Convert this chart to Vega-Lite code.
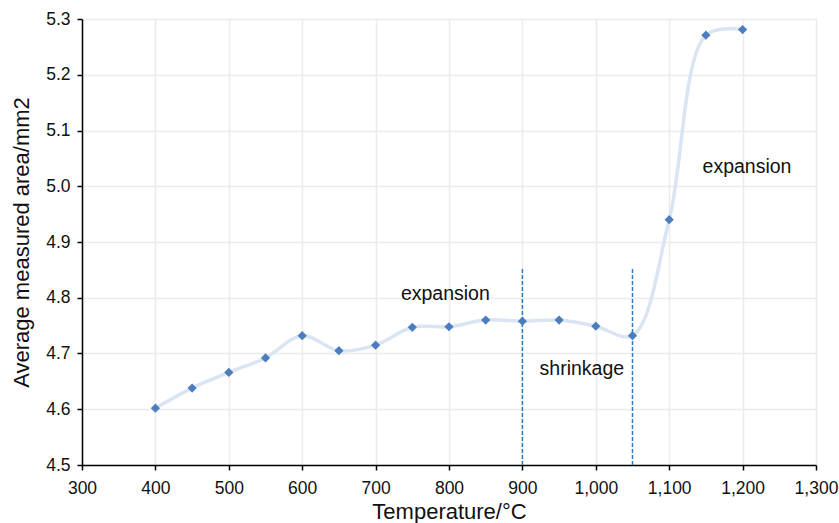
{
  "$schema": "https://vega.github.io/schema/vega-lite/v6.json",
  "width": 734,
  "height": 446,
  "autosize": {"type": "none"},
  "padding": {"left": 82, "top": 19, "right": 23, "bottom": 58},
  "background": "white",
  "config": {
    "view": {"stroke": null},
    "font": "Liberation Sans",
    "axis": {
      "labelFont": "Liberation Sans",
      "titleFont": "Liberation Sans",
      "labelFontSize": 17.5,
      "titleFontSize": 22,
      "titleFontWeight": "normal",
      "labelColor": "#111",
      "titleColor": "#111",
      "domainColor": "#000",
      "domainWidth": 1.5,
      "tickColor": "#000",
      "tickWidth": 1.5,
      "tickSize": 5,
      "gridColor": "#ececec",
      "gridWidth": 1.5,
      "labelFlush": false
    }
  },
  "datasets": {
    "pts": [
      {"t": 400, "a": 4.602},
      {"t": 450, "a": 4.638},
      {"t": 500, "a": 4.666},
      {"t": 550, "a": 4.692},
      {"t": 600, "a": 4.732},
      {"t": 650, "a": 4.705},
      {"t": 700, "a": 4.715},
      {"t": 750, "a": 4.747},
      {"t": 800, "a": 4.748},
      {"t": 850, "a": 4.760},
      {"t": 900, "a": 4.758},
      {"t": 950, "a": 4.760},
      {"t": 1000, "a": 4.749},
      {"t": 1050, "a": 4.732},
      {"t": 1100, "a": 4.940},
      {"t": 1150, "a": 5.271},
      {"t": 1200, "a": 5.281}
    ],
    "rules": [
      {"t": 900, "y1": 4.5, "y2": 4.855},
      {"t": 1050, "y1": 4.5, "y2": 4.855}
    ],
    "labels": [
      {"t": 795, "a": 4.807, "label": "expansion"},
      {"t": 981, "a": 4.672, "label": "shrinkage"},
      {"t": 1206, "a": 5.035, "label": "expansion"}
    ]
  },
  "layer": [
    {
      "data": {"name": "pts"},
      "mark": {"type": "line", "interpolate": "catmull-rom", "color": "#dae4f2", "strokeWidth": 3.5},
      "encoding": {
        "x": {
          "field": "t", "type": "quantitative",
          "scale": {"domain": [300, 1300], "nice": false, "zero": false},
          "axis": {
            "title": "Temperature/°C",
            "values": [300,350,400,450,500,550,600,650,700,750,800,850,900,950,1000,1050,1100,1150,1200,1250,1300],
            "labelExpr": "datum.value % 100 == 0 ? format(datum.value, ',') : ''",
            "gridOpacity": {"condition": {"test": "datum.value % 100 != 0", "value": 0}, "value": 1},
            "labelPadding": 9,
            "titlePadding": 5
          }
        },
        "y": {
          "field": "a", "type": "quantitative",
          "scale": {"domain": [4.5, 5.3], "nice": false, "zero": false},
          "axis": {
            "title": "Average measured area/mm2",
            "values": [4.5,4.6,4.7,4.8,4.9,5.0,5.1,5.2,5.3],
            "format": ".1f",
            "labelPadding": 7,
            "titlePadding": 12
          }
        }
      }
    },
    {
      "data": {"name": "rules"},
      "mark": {"type": "rule", "color": "#2a7bc4", "strokeWidth": 1.5, "strokeDash": [4, 2]},
      "encoding": {
        "x": {"field": "t", "type": "quantitative"},
        "y": {"field": "y1", "type": "quantitative"},
        "y2": {"field": "y2"}
      }
    },
    {
      "data": {"name": "pts"},
      "mark": {"type": "point", "shape": "diamond", "filled": true, "color": "#4a7ebf", "size": 85, "opacity": 1},
      "encoding": {
        "x": {"field": "t", "type": "quantitative"},
        "y": {"field": "a", "type": "quantitative"}
      }
    },
    {
      "data": {"name": "labels"},
      "mark": {"type": "text", "fontSize": 19.5, "color": "#111", "font": "Liberation Sans"},
      "encoding": {
        "x": {"field": "t", "type": "quantitative"},
        "y": {"field": "a", "type": "quantitative"},
        "text": {"field": "label"}
      }
    }
  ]
}
